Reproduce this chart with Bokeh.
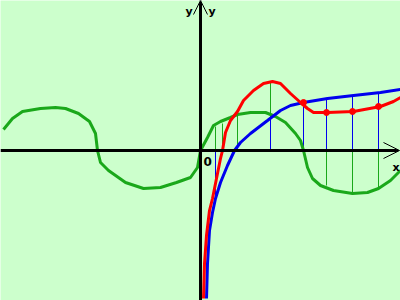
from bokeh.plotting import figure
from bokeh.models import Range1d, Span, Arrow, OpenHead, Label
from bokeh.embed import file_html
from bokeh.resources import INLINE

# sine-like wave (green)
green_x = [-197, -188, -178, -160, -145, -135, -122, -111, -105, -103, -100, -92, -75, -57, -40, -24, -10, -3, 0,
           7, 13, 20, 30, 37, 50, 65, 75, 85, 95, 100, 103, 107, 112, 120, 133, 152, 167, 178, 190, 200]
green_y = [21, 32, 39, 42, 43, 42, 37, 29, 17, 0, -12, -20, -32, -38, -37, -32, -27, -17, 0,
           13, 25, 29, 33, 36, 38, 38, 34, 28, 17, 10, 0, -17, -28, -35, -40, -43, -42, -38, -30, -20]

# logarithm-like curve (blue)
blue_x = [6, 7, 9, 12, 15, 20, 27, 34, 40, 50, 67, 80, 90, 103, 127, 153, 180, 200]
blue_y = [-148, -113, -80, -62, -48, -32, -15, 0, 8, 17, 30, 40, 45, 48, 52, 55, 58, 61]

# sum curve (red)
red_x = [3, 4, 6, 9, 12, 17, 20, 22, 25, 30, 37, 43, 53, 63, 72, 80, 90, 100, 107, 113, 127, 153, 180, 193, 200]
red_y = [-148, -113, -85, -60, -48, -23, -8, 0, 18, 30, 39, 50, 60, 67, 69, 67, 57, 48, 42, 38, 38, 39, 44, 49, 53]

# construction lines
v_x = [15, 22, 37, 70, 103, 126, 152, 178]
v_blue = [-48, 0, 0, 32, 48, 52, 55, 58]
v_green = [24, 27, 36, 37, 0, -35, -43, -38]

# marked points on the red curve
dot_x = [103, 126, 152, 178]
dot_y = [48, 38, 39, 44]

BG = "#CCFFCC"
GREEN = "#1AA81A"
RED = "#FF0000"
BLUE = "#0000EE"

p = figure(width=400, height=300, x_range=Range1d(-200, 200), y_range=Range1d(-150, 150),
           output_backend="svg", toolbar_location=None, min_border=0,
           background_fill_color=BG, border_fill_color=BG)
p.axis.visible = False
p.grid.visible = False
p.outline_line_color = None

# construction segments
bx0, by0, bx1, by1 = [], [], [], []
gx0, gy0, gx1, gy1 = [], [], [], []
for x, b, g in zip(v_x, v_blue, v_green):
    if b != 0:
        bx0.append(x); by0.append(0); bx1.append(x); by1.append(b)
    if g != 0:
        base = b if (b * g > 0) else 0
        gx0.append(x); gy0.append(base); gx1.append(x); gy1.append(base + g)
p.segment(bx0, by0, bx1, by1, line_color=BLUE, line_width=1)
p.segment(gx0, gy0, gx1, gy1, line_color=GREEN, line_width=1)

# axes
p.add_layout(Arrow(x_start=-200, y_start=0, x_end=199, y_end=0, line_width=3, line_color="black",
                   end=OpenHead(size=16, line_width=1, line_color="black")))
p.add_layout(Arrow(x_start=0, y_start=-150, x_end=0, y_end=150, line_width=3, line_color="black",
                   end=OpenHead(size=14, line_width=1, line_color="black")))

# curves
p.line(green_x, green_y, line_color=GREEN, line_width=3)
p.line(blue_x, blue_y, line_color=BLUE, line_width=3)
p.line(red_x, red_y, line_color=RED, line_width=3)
p.scatter(dot_x, dot_y, size=6, color=RED)

font = "DejaVu Sans"
for txt, x, y, dx in [("0", 3, -6, 0), ("x", 192, -10, 0), ("y", -15, 146, 0), ("y", 8, 146, 0)]:
    p.add_layout(Label(x=x, y=y, text=txt, text_font=font, text_font_style="bold",
                       text_font_size="12px" if txt == "0" else "11px",
                       text_baseline="top", text_align="left", text_color="black"))

open("out.html", "w").write(file_html(p, INLINE))
